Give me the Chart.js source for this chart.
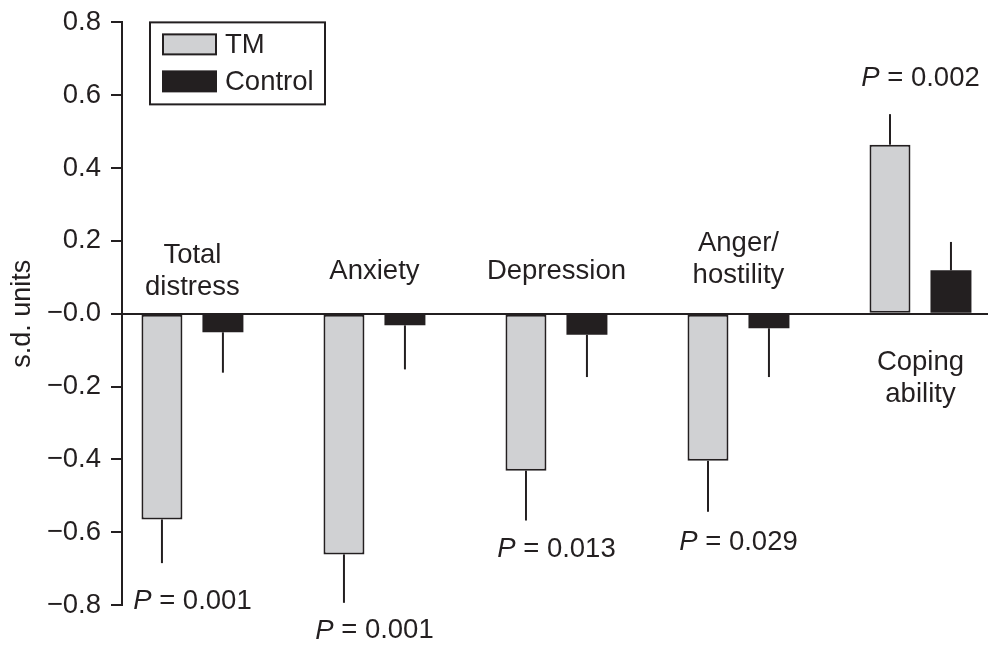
<!DOCTYPE html>
<html>
<head>
<meta charset="utf-8">
<script src="https://cdn.jsdelivr.net/npm/chart.js@4.4.0/dist/chart.umd.min.js"></script>
<style>
  html, body { margin: 0; padding: 0; background: #fff; }
  #wrap { width: 988px; height: 649px; position: relative; }
</style>
</head>
<body>
<div id="wrap"><canvas id="chart"></canvas></div>
<script>
// data (s.d. units)
var categories = [["Total", "distress"], ["Anxiety"], ["Depression"], ["Anger/", "hostility"], ["Coping", "ability"]];
var seriesNames = ["TM", "Control"];
var tmValues = [-0.565, -0.661, -0.431, -0.404, 0.464];
var tmErrors = [0.12, 0.133, 0.137, 0.14, 0.084];
var controlValues = [-0.051, -0.032, -0.058, -0.040, 0.119];
var controlErrors = [0.111, 0.121, 0.116, 0.134, 0.078];
var pValues = ["0.001", "0.001", "0.013", "0.029", "0.002"];

// where the annotation text sits, in s.d. units
var labelY = [0.117, 0.117, 0.117, 0.15, -0.177];
var pLabelY = [-0.789, -0.871, -0.646, -0.627, 0.646];

var ink = "#231f20";
var grey = "#d0d1d3";
var fontFamily = "'Liberation Sans', Arial, sans-serif";
var fontSize = 27.5;

function points(values) {
    return values.map(function (v, i) { return { x: i, y: v }; });
}

var annotate = {
    id: "annotate",
    afterDatasetsDraw: function (chart) {
        var ctx = chart.ctx;
        var xs = chart.scales.x;
        var ys = chart.scales.y;
        var area = chart.chartArea;
        ctx.save();

        // one-sided error bars
        ctx.strokeStyle = ink;
        ctx.lineWidth = 2;
        [[0, tmValues, tmErrors], [1, controlValues, controlErrors]].forEach(function (s) {
            chart.getDatasetMeta(s[0]).data.forEach(function (bar, i) {
                var v = s[1][i];
                var end = v < 0 ? v - s[2][i] : v + s[2][i];
                ctx.beginPath();
                ctx.moveTo(bar.x, ys.getPixelForValue(v));
                ctx.lineTo(bar.x, ys.getPixelForValue(end));
                ctx.stroke();
            });
        });

        ctx.fillStyle = ink;
        ctx.textBaseline = "middle";

        // category names
        ctx.font = fontSize + "px " + fontFamily;
        ctx.textAlign = "center";
        categories.forEach(function (lines, i) {
            var cx = xs.getPixelForValue(i);
            var cy = ys.getPixelForValue(labelY[i]);
            lines.forEach(function (t, k) {
                ctx.fillText(t, cx, cy + (k - (lines.length - 1) / 2) * 32);
            });
        });

        // P values
        ctx.textAlign = "left";
        pValues.forEach(function (p, i) {
            var cx = xs.getPixelForValue(i);
            var cy = ys.getPixelForValue(pLabelY[i]);
            var rest = " = " + p;
            ctx.font = "italic " + fontSize + "px " + fontFamily;
            var w1 = ctx.measureText("P").width;
            ctx.font = fontSize + "px " + fontFamily;
            var w2 = ctx.measureText(rest).width;
            var x0 = cx - (w1 + w2) / 2;
            ctx.font = "italic " + fontSize + "px " + fontFamily;
            ctx.fillText("P", x0, cy);
            ctx.font = fontSize + "px " + fontFamily;
            ctx.fillText(rest, x0 + w1, cy);
        });

        // legend box
        var lx = area.left + 28;
        var ly = area.top;
        ctx.lineWidth = 2;
        ctx.strokeStyle = ink;
        ctx.strokeRect(lx, ly, 175, 82);
        var fills = [grey, ink];
        seriesNames.forEach(function (name, k) {
            var sy = ly + 12 + k * 37;
            ctx.fillStyle = fills[k];
            ctx.fillRect(lx + 13, sy, 53, 20);
            ctx.strokeRect(lx + 13, sy, 53, 20);
            ctx.fillStyle = ink;
            ctx.font = fontSize + "px " + fontFamily;
            ctx.fillText(name, lx + 75, sy + 11);
        });

        ctx.restore();
    }
};

var ctx = document.getElementById("chart").getContext("2d");
var myChart = new Chart(ctx, {
    type: "bar",
    data: {
        datasets: [
            {
                label: seriesNames[0],
                data: points(tmValues),
                backgroundColor: grey,
                borderColor: ink,
                borderWidth: 2,
                borderSkipped: false,
            },
            {
                label: seriesNames[1],
                data: points(controlValues),
                backgroundColor: ink,
                borderColor: ink,
                borderWidth: 0,
                borderSkipped: false,
            },
        ],
    },
    plugins: [annotate],
    options: {
        responsive: true,
        maintainAspectRatio: false,
        animation: false,
        categoryPercentage: 0.67,
        barPercentage: 0.672,
        layout: { padding: { top: 21, bottom: 44, left: 0, right: 0 } },
        plugins: {
            legend: { display: false },
            tooltip: { enabled: false },
        },
        scales: {
            x: {
                type: "linear",
                display: false,
                offset: false,
                grid: { offset: false },
                min: -0.387,
                max: 4.371,
                afterBuildTicks: function (scale) {
                    scale.ticks = categories.map(function (c, i) { return { value: i }; });
                },
            },
            y: {
                min: -0.8,
                max: 0.8,
                afterFit: function (scale) { scale.width = 122; },
                border: { display: true, color: ink, width: 2 },
                grid: {
                    color: function (c) {
                        return c.tick && Math.abs(c.tick.value) < 1e-9 ? ink : "rgba(0,0,0,0)";
                    },
                    lineWidth: 2,
                    tickColor: ink,
                    tickLength: 11,
                    tickWidth: 2,
                },
                ticks: {
                    stepSize: 0.2,
                    padding: 10,
                    color: ink,
                    font: { family: fontFamily, size: fontSize, lineHeight: 0.9 },
                    callback: function (v) {
                        var s = Math.abs(v).toFixed(1);
                        return v < 1e-9 ? "\u2212" + s : s;
                    },
                },
                title: {
                    display: true,
                    text: "s.d. units",
                    color: ink,
                    font: { family: fontFamily, size: 27 },
                    padding: { top: 6, bottom: 0 },
                },
            },
        },
    },
});
</script>
</body>
</html>
